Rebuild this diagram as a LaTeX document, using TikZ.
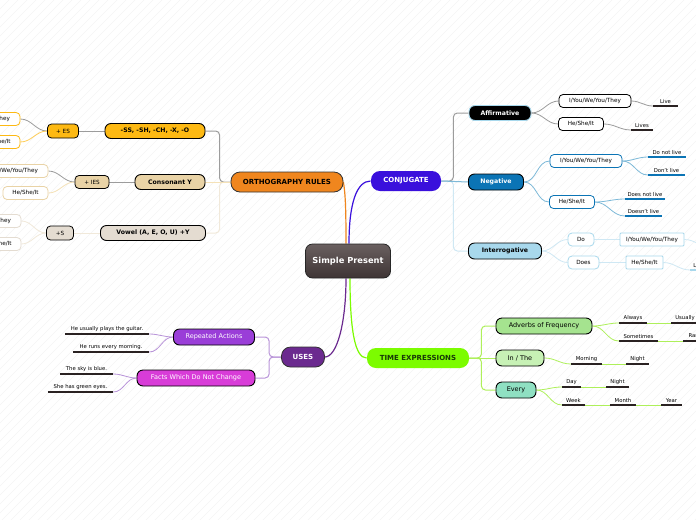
\documentclass[tikz,border=0pt]{standalone}
\usepackage{fontspec}
\setmainfont{DejaVu Sans}
\usetikzlibrary{positioning, backgrounds}
\definecolor{spdark}{HTML}{3E3434}
\definecolor{sptop}{HTML}{6A6060}
\definecolor{orthoorange}{HTML}{F0861E}
\definecolor{conjblue}{HTML}{3A10DC}
\definecolor{usespurple}{HTML}{6B2A8F}
\definecolor{timegreen}{HTML}{7CFC00}
\definecolor{timetext}{HTML}{173808}
\definecolor{ssgold}{HTML}{FDB913}
\definecolor{cytan}{HTML}{E9D3A6}
\definecolor{vybeige}{HTML}{E4DCD1}
\definecolor{negblue}{HTML}{0B74B5}
\definecolor{intblue}{HTML}{A8D8EC}
\definecolor{repviolet}{HTML}{9A3ED8}
\definecolor{factmagenta}{HTML}{D83CD8}
\definecolor{advgreen}{HTML}{A5E38F}
\definecolor{ingreen}{HTML}{C7F1B5}
\definecolor{everymint}{HTML}{8FE0C2}
\definecolor{linkgray}{HTML}{9C9C9C}
\definecolor{cylink}{HTML}{F5E2B8}
\definecolor{vylink}{HTML}{F1E9DA}
\definecolor{neglink}{HTML}{7DB9D8}
\definecolor{intlink}{HTML}{CFE8F4}
\definecolor{useslink}{HTML}{B994D9}
\definecolor{timelink}{HTML}{AEF05A}
\definecolor{leafline}{HTML}{2A2222}

\begin{document}
\begin{tikzpicture}[x=1pt, y=-1pt,
  core/.style={draw=black!85, line width=0.8pt, rounded corners=7pt, top color=sptop, bottom color=spdark, text=white, font=\fontsize{8.3}{9}\selectfont\bfseries, minimum width=85pt, minimum height=34pt, inner sep=0pt},
  topic/.style={rounded corners=9pt, line width=0.8pt, minimum height=20pt, inner sep=0pt, font=\fontsize{7}{8}\selectfont\bfseries},
  sub/.style={draw, rounded corners=6pt, line width=0.9pt, minimum height=15pt, inner sep=0pt, font=\fontsize{6.2}{7}\selectfont\bfseries},
  subn/.style={sub, minimum height=16pt, font=\fontsize{6.5}{7.5}\selectfont},
  box/.style={draw, rounded corners=4pt, line width=0.8pt, fill=white, minimum height=13pt, inner sep=0pt, font=\fontsize{5.7}{6.5}\selectfont},
  leaftext/.style={anchor=south, inner xsep=0pt, inner ysep=2.5pt, minimum width=#1, font=\fontsize{5.3}{6}\selectfont},
  leaf/.style={leaftext=#1, append after command={(\tikzlastnode.south west) edge[draw=leafline, line width=1.2pt] (\tikzlastnode.south east)}},
  negleaf/.style={leaftext=#1, append after command={(\tikzlastnode.south west) edge[draw=negblue, line width=1.2pt] (\tikzlastnode.south east)}},
  intleaf/.style={leaftext=#1, append after command={(\tikzlastnode.south west) edge[draw=intblue, line width=1.2pt] (\tikzlastnode.south east)}},
  link/.style={line width=1.2pt},
  elbow/.style={line width=1pt, rounded corners=4pt},
  twig/.style={line width=0.8pt},
  stripe/.style={draw=black!4, line width=0.4pt},
]
  \useasboundingbox (0,0) rectangle (696,520);
  \clip (0,0) rectangle (696,520);

  \node[core] (sp) at (348,261) {Simple Present};

  \node[topic, fill=orthoorange, draw=black!80, minimum width=112pt] (ortho) at (287,182) {ORTHOGRAPHY RULES};
  \node[topic, fill=conjblue, text=white, minimum width=70pt] (conj) at (406,181) {CONJUGATE};
  \node[topic, fill=usespurple, draw=black!80, text=white, minimum width=43pt] (uses) at (303,357) {USES};
  \node[topic, fill=timegreen, text=timetext, minimum width=102pt] (time) at (418,358) {TIME EXPRESSIONS};

  % orthography rules
  \node[sub, fill=ssgold, minimum width=100pt] (ss) at (155,131) {-SS, -SH, -CH, -X, -O};
  \node[sub, fill=cytan, minimum width=70pt] (cy) at (170,182) {Consonant Y};
  \node[sub, fill=vybeige, minimum width=105pt] (vy) at (153,233) {Vowel (A, E, O, U) +Y};
  \node[box, fill=ssgold, draw=black, minimum width=31pt, minimum height=14pt] (es) at (63,131) {+ ES};
  \node[box, fill=cytan, draw=black, minimum width=34pt] (ies) at (92,182) {+ IES};
  \node[box, fill=vybeige, draw=black, minimum width=27pt, minimum height=14pt] (vs) at (60,233) {+S};
  \node[box, draw=ssgold, minimum width=72pt] (es1) at (-16,119) {I/You/We/You/They};
  \node[box, draw=ssgold, minimum width=45pt] (es2) at (-2.5,142) {He/She/It};
  \node[box, draw=cytan, minimum width=72pt] (ies1) at (12,171) {I/You/We/You/They};
  \node[box, draw=cytan, minimum width=45pt] (ies2) at (25.5,193) {He/She/It};
  \node[box, draw=vybeige, minimum width=72pt] (vs1) at (-15,221) {I/You/We/You/They};
  \node[box, draw=vybeige, minimum width=45pt] (vs2) at (-1.5,244) {He/She/It};

  % conjugate
  \node[sub, fill=black, draw=intblue, text=white, minimum width=62pt] (aff) at (500,113) {Affirmative};
  \node[sub, fill=negblue, text=white, minimum width=55pt, minimum height=16pt] (neg) at (496,182) {Negative};
  \node[sub, fill=intblue, minimum width=73pt, minimum height=16pt] (intr) at (505,251) {Interrogative};
  \node[box, draw=black, minimum width=72pt] (a1) at (595,101) {I/You/We/You/They};
  \node[box, draw=black, minimum width=45pt] (a2) at (581,124) {He/She/It};
  \node[leaf=25pt] (live) at (665.5,106) {Live};
  \node[leaf=22pt] (lives) at (642,130) {Lives};
  \node[box, draw=negblue, minimum width=72pt] (n1) at (586,161) {I/You/We/You/They};
  \node[box, draw=negblue, minimum width=45pt] (n2) at (572,202) {He/She/It};
  \node[negleaf=38pt] (dnl) at (667,157) {Do not live};
  \node[negleaf=37pt] (dntl) at (666.5,175) {Don't live};
  \node[negleaf=40pt] (dsnl) at (645,199) {Does not live};
  \node[negleaf=37pt] (dsntl) at (643.5,216) {Doesn't live};
  \node[box, draw=intblue, minimum width=26pt] (do) at (581,239.5) {Do};
  \node[box, draw=intblue, minimum width=31pt] (does) at (583.5,262.5) {Does};
  \node[box, draw=intblue, rounded corners=1pt, minimum width=64pt] (q1) at (652,239.5) {I/You/We/You/They};
  \node[box, draw=intblue, rounded corners=1pt, minimum width=37pt] (q2) at (644.5,262.5) {He/She/It};
  \node[intleaf=17pt, anchor=south west] (q1l) at (712,248) {Live};
  \node[intleaf=17pt, anchor=south west] (q2l) at (690,270) {Live};

  % uses
  \node[subn, fill=repviolet, text=white, minimum width=81pt] (rep) at (214,337) {Repeated Actions};
  \node[subn, fill=factmagenta, text=white, minimum width=118pt] (facts) at (196,378) {Facts Which Do Not Change};
  \node[leaf=84pt] (u1) at (107,334) {He usually plays the guitar.};
  \node[leaf=76pt] (u2) at (111,352) {He runs every morning.};
  \node[leaf=53pt] (u3) at (86.5,374) {The sky is blue.};
  \node[leaf=65pt] (u4) at (80.5,392) {She has green eyes.};

  % time expressions
  \node[subn, fill=advgreen, minimum width=96pt] (adv) at (544,326) {Adverbs of Frequency};
  \node[subn, fill=ingreen, minimum width=48pt] (inthe) at (520,358) {In / The};
  \node[subn, fill=everymint, minimum width=40pt] (every) at (516,390) {Every};
  \node[leaf=28pt] (alw) at (633,323) {Always};
  \node[leaf=28pt] (usu) at (685,323) {Usually};
  \node[leaf=39pt] (som) at (638.5,341) {Sometimes};
  \node[leaf=28pt] (rar) at (697,341) {Rarely};
  \node[leaf=31pt] (mor) at (586.5,364) {Morning};
  \node[leaf=23pt] (nig1) at (637.5,364) {Night};
  \node[leaf=19pt] (day) at (571.5,387) {Day};
  \node[leaf=23pt] (nig2) at (617.5,387) {Night};
  \node[leaf=23pt] (wk) at (573.5,405) {Week};
  \node[leaf=26pt] (mon) at (623,405) {Month};
  \node[leaf=21pt] (yr) at (671.5,405) {Year};

  \begin{scope}[on background layer]
    \fill[white] (0,0) rectangle (696,520);
    \foreach \k in {-520,-511,...,700}
      \draw[stripe] (\k,520) -- ++(520,-520);

    \draw[link, draw=orthoorange] ([xshift=-2pt]sp.north) .. controls +(0,-35) and +(2,12) .. (ortho.east);
    \draw[link, draw=conjblue] ([xshift=1pt]sp.north) .. controls +(0,-40) and +(-14,0) .. (conj.west);
    \draw[link, draw=usespurple] ([xshift=-2pt]sp.south) .. controls +(0,45) and +(12,0) .. (uses.east);
    \draw[link, draw=timegreen] ([xshift=2pt]sp.south) .. controls +(0,50) and +(-12,0) .. (time.west);

    \draw[elbow, draw=linkgray] (ortho.west) -- ++(-11,0) |- (ss.east);
    \draw[elbow, draw=vylink] (ortho.west) -- ++(-11,0) |- (vy.east);
    \draw[elbow, draw=cylink] (ortho.west) -- (cy.east);
    \draw[elbow, draw=linkgray] (ss.west) -- (es.east);
    \draw[elbow, draw=linkgray] (cy.west) -- (ies.east);
    \draw[elbow, draw=vylink] (vy.west) -- (vs.east);
    \draw[twig, draw=linkgray] (es.west) to[out=180, in=0] (es1.east);
    \draw[twig, draw=ssgold!70] (es.west) to[out=180, in=0] (es2.east);
    \draw[twig, draw=linkgray] (ies.west) to[out=180, in=0] (ies1.east);
    \draw[twig, draw=cylink] (ies.west) to[out=180, in=0] (ies2.east);
    \draw[twig, draw=vylink] (vs.west) to[out=180, in=0] (vs1.east);
    \draw[twig, draw=vylink] (vs.west) to[out=180, in=0] (vs2.east);

    \draw[elbow, draw=linkgray] (conj.east) -- ++(12,0) |- (aff.west);
    \draw[elbow, draw=intlink] (conj.east) -- ++(12,0) |- (intr.west);
    \draw[elbow, draw=neglink] (conj.east) -- (neg.west);
    \draw[twig, draw=linkgray] (aff.east) to[out=0, in=180] (a1.west);
    \draw[twig, draw=linkgray] (aff.east) to[out=0, in=180] (a2.west);
    \draw[twig, draw=linkgray] (a1.east) to[out=0, in=180] (live.south west);
    \draw[twig, draw=linkgray] (a2.east) to[out=0, in=180] (lives.south west);
    \draw[twig, draw=neglink] (neg.east) to[out=0, in=180] (n1.west);
    \draw[twig, draw=neglink] (neg.east) to[out=0, in=180] (n2.west);
    \draw[twig, draw=neglink] (n1.east) to[out=0, in=180] (dnl.south west);
    \draw[twig, draw=neglink] (n1.east) to[out=0, in=180] (dntl.south west);
    \draw[twig, draw=neglink] (n2.east) to[out=0, in=180] (dsnl.south west);
    \draw[twig, draw=neglink] (n2.east) to[out=0, in=180] (dsntl.south west);
    \draw[twig, draw=intlink] (intr.east) to[out=0, in=180] (do.west);
    \draw[twig, draw=intlink] (intr.east) to[out=0, in=180] (does.west);
    \draw[twig, draw=intlink] (do.east) -- (q1.west);
    \draw[twig, draw=intlink] (does.east) -- (q2.west);
    \draw[twig, draw=intlink] (q1.east) to[out=0, in=180] (q1l.south west);
    \draw[twig, draw=intlink] (q2.east) to[out=0, in=180] (q2l.south west);

    \draw[elbow, draw=useslink] (uses.west) -- ++(-12,0) |- (rep.east);
    \draw[elbow, draw=useslink] (uses.west) -- ++(-12,0) |- (facts.east);
    \draw[twig, draw=useslink] (rep.west) to[out=180, in=0] (u1.south east);
    \draw[twig, draw=useslink] (rep.west) to[out=180, in=0] (u2.south east);
    \draw[twig, draw=useslink] (facts.west) to[out=180, in=0] (u3.south east);
    \draw[twig, draw=useslink] (facts.west) to[out=180, in=0] (u4.south east);

    \draw[elbow, draw=timelink] (time.east) -- ++(12,0) |- (adv.west);
    \draw[elbow, draw=timelink] (time.east) -- ++(12,0) |- (every.west);
    \draw[elbow, draw=timelink] (time.east) -- (inthe.west);
    \draw[twig, draw=timelink] (adv.east) to[out=0, in=180] (alw.south west);
    \draw[twig, draw=timelink] (adv.east) to[out=0, in=180] (som.south west);
    \draw[twig, draw=timelink] (alw.south east) -- (usu.south west);
    \draw[twig, draw=timelink] (som.south east) -- (rar.south west);
    \draw[twig, draw=timelink] (inthe.east) to[out=0, in=180] (mor.south west);
    \draw[twig, draw=timelink] (mor.south east) -- (nig1.south west);
    \draw[twig, draw=timelink] (every.east) to[out=0, in=180] (day.south west);
    \draw[twig, draw=timelink] (every.east) to[out=0, in=180] (wk.south west);
    \draw[twig, draw=timelink] (day.south east) -- (nig2.south west);
    \draw[twig, draw=timelink] (wk.south east) -- (mon.south west);
    \draw[twig, draw=timelink] (mon.south east) -- (yr.south west);
  \end{scope}
\end{tikzpicture}
\end{document}
